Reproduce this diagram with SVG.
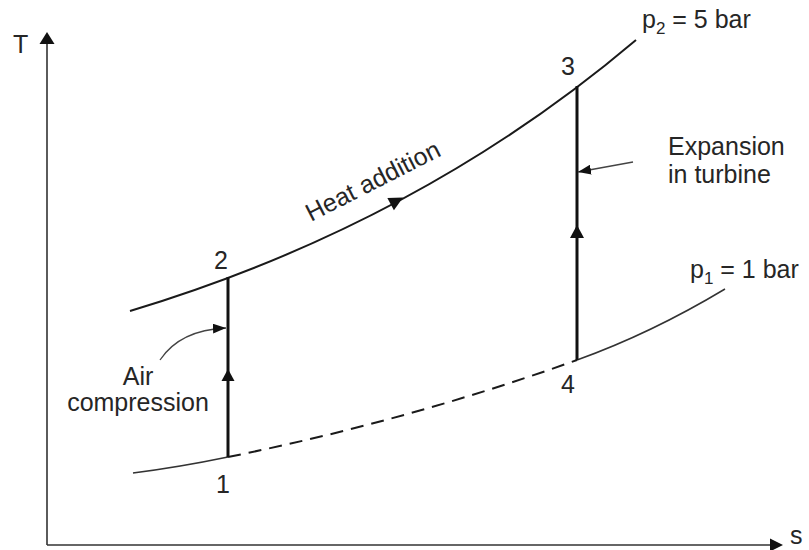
<svg xmlns="http://www.w3.org/2000/svg" width="809" height="550" viewBox="0 0 809 550">
  <style>
    text { font-family: "Liberation Sans", Arial, sans-serif; font-size: 25px; fill: #262626; }
    .axis { stroke: #333; stroke-width: 1.6; fill: none; }
    .curve { stroke: #1a1a1a; stroke-width: 2; fill: none; }
    .curve-thin { stroke: #333; stroke-width: 1.5; fill: none; }
    .dash { stroke: #1a1a1a; stroke-width: 2; fill: none; stroke-dasharray: 13 8; }
    .proc { stroke: #111; stroke-width: 3; fill: none; }
    .lead { stroke: #444; stroke-width: 1.3; fill: none; }
    .head { fill: #111; }
    .sub { font-size: 17px; }
  </style>
  <defs>
    <marker id="leadHead" viewBox="0 0 13 10" refX="13" refY="5" markerWidth="13" markerHeight="10" markerUnits="userSpaceOnUse" orient="auto">
      <path d="M0,0 L13,5 L0,10 Z" fill="#111"/>
    </marker>
  </defs>

  <g id="axes">
    <line class="axis" x1="47" y1="545" x2="47" y2="42"/>
    <polygon class="head" points="47,32 39.5,44 54.5,44"/>
    <line class="axis" x1="47" y1="545" x2="772" y2="545"/>
    <polygon class="head" points="783,545 770,538.5 770,551.5"/>
    <text id="label-T" x="13" y="53">T</text>
    <text id="label-s" x="790" y="544">s</text>
  </g>

  <g id="isobar-p2">
    <path class="curve" d="M130,311 Q419,224 636,40"/>
    <text x="642" y="28">p<tspan class="sub" dy="6">2</tspan><tspan dy="-6"> = 5 bar</tspan></text>
  </g>

  <g id="isobar-p1">
    <path class="curve-thin" d="M133,473 Q180,467 228,457"/>
    <path class="dash" d="M228,457 Q407,421 577,360"/>
    <path class="curve-thin" d="M577,360 Q651,333.4 725,289"/>
    <text x="690" y="278">p<tspan class="sub" dy="6">1</tspan><tspan dy="-6"> = 1 bar</tspan></text>
  </g>

  <g id="connectors">
    <g id="process-1-2">
      <line class="proc" x1="228" y1="457" x2="228" y2="277"/>
      <polygon class="head" points="228,369 221.5,381 234.5,381"/>
    </g>
    <g id="process-4-3">
      <line class="proc" x1="577" y1="360" x2="577" y2="86"/>
      <polygon class="head" points="577,225 570,238 584,238"/>
    </g>
    <g id="heat-arrow">
      <polygon class="head" points="0,0 -14,-7 -14,7" transform="translate(403,197.5) rotate(-28)"/>
    </g>
    <path id="lead-compression" class="lead" d="M160,360 Q180,330 226,328" marker-end="url(#leadHead)"/>
    <line id="lead-expansion" class="lead" x1="633" y1="162" x2="578" y2="172" marker-end="url(#leadHead)"/>
  </g>

  <g id="point-1"><text x="223" y="493" text-anchor="middle" font-size="23">1</text></g>
  <g id="point-2"><text x="221" y="269" text-anchor="middle" font-size="23">2</text></g>
  <g id="point-3"><text x="568" y="75" text-anchor="middle" font-size="23">3</text></g>
  <g id="point-4"><text x="568" y="393" text-anchor="middle" font-size="23">4</text></g>

  <g id="label-heat">
    <text transform="translate(311,222) rotate(-27)">Heat addition</text>
  </g>
  <g id="label-compression">
    <text x="138" y="385" text-anchor="middle">Air</text>
    <text x="138" y="411" text-anchor="middle">compression</text>
  </g>
  <g id="label-expansion">
    <text x="668" y="155">Expansion</text>
    <text x="668" y="183">in turbine</text>
  </g>
</svg>
